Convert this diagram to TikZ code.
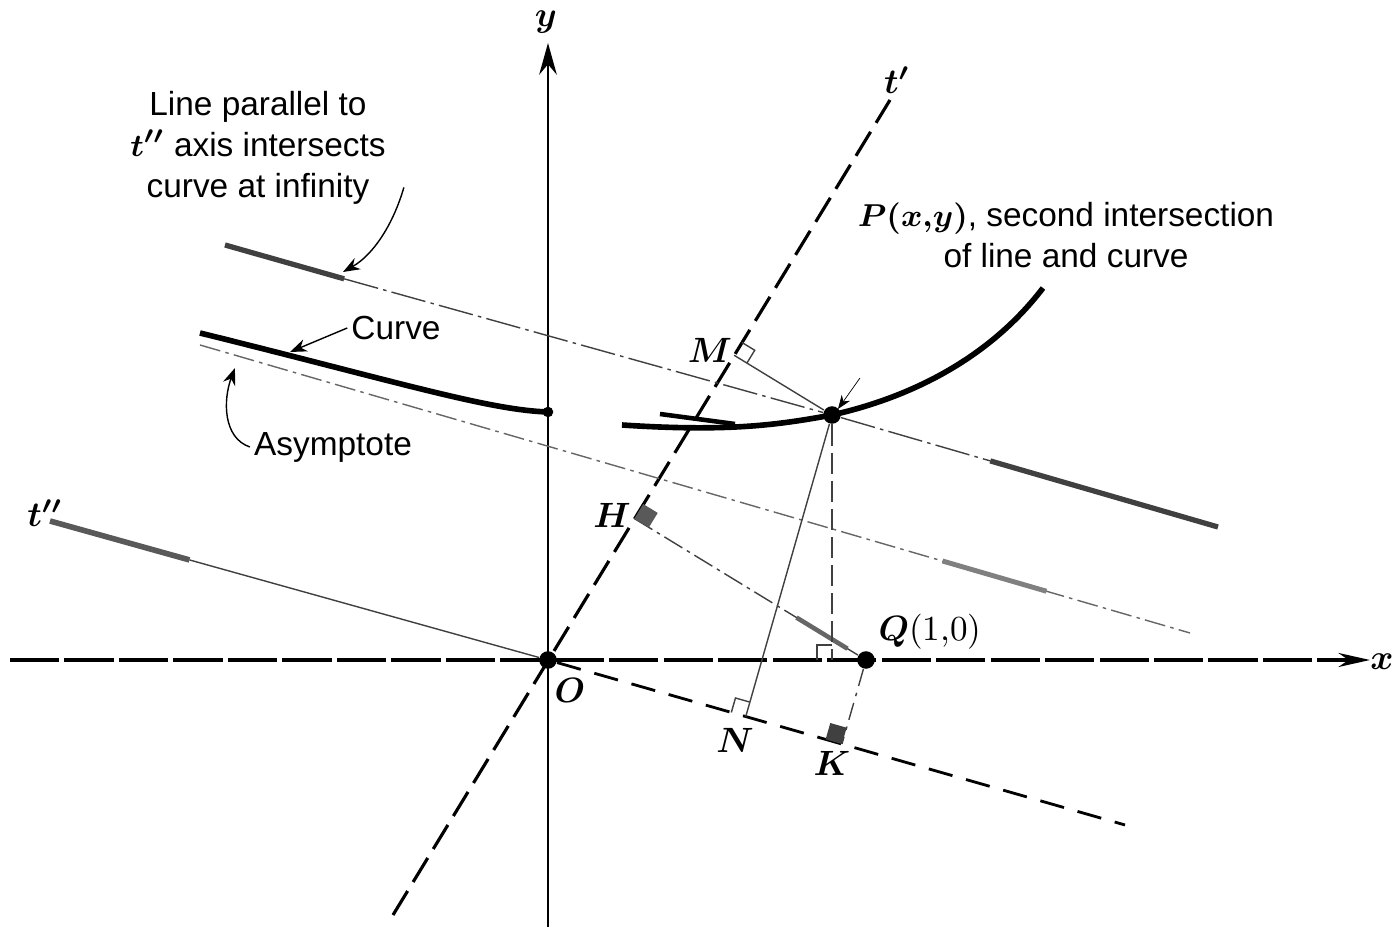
\documentclass[tikz,border=0pt]{standalone}
\usepackage{amsmath}
\usepackage{amssymb}
\usepackage{fontspec}
\setsansfont{Liberation Sans}
\usetikzlibrary{calc, positioning, arrows.meta}

% right-angle mark: corner, towards a, towards b
\newcommand{\sqmark}[4][]{\draw[#1] ($(#2)!0.15cm!(#3)$) -- ($(#2)!0.15cm!(#3) + (#2)!0.15cm!(#4) - (#2)$) -- ($(#2)!0.15cm!(#4)$);}
\newcommand{\sqfill}[4][]{\fill[#1] (#2) -- ($(#2)!0.17cm!(#3)$) -- ($(#2)!0.17cm!(#3) + (#2)!0.17cm!(#4) - (#2)$) -- ($(#2)!0.17cm!(#4)$) -- cycle;}

\begin{document}
\begin{tikzpicture}[>=Stealth,
        lbl/.style={font=\fontsize{9.5}{11.6}\selectfont\sffamily, align=center, inner sep=1pt},
        pt/.style={font=\fontsize{10}{12}\selectfont, inner sep=1pt},
        dot/.style={circle, fill, inner sep=0pt, minimum size=5pt},
        aux/.style={thin, black!75}]
        \useasboundingbox (-5.48,-2.67) rectangle (8.52,6.60);

        % points
        \node[dot] (O) at (0,0) {};
        \node[dot] (Q) at (3.18,0) {};
        \node[dot] (P) at (2.84,2.45) {};
        \node[dot, minimum size=3pt] (C) at (0,2.48) {};

        % ends of the lines
        \coordinate (xL) at (-5.38,0);
        \coordinate (xR) at (8.22,0);
        \coordinate (yB) at (0,-2.67);
        \coordinate (yT) at (0,6.17);
        \coordinate (tpB) at (-1.55,-2.55);
        \coordinate (tpT) at (3.42,5.60);
        \coordinate (tppL) at (-4.98,1.39);
        \coordinate (tppR) at (5.77,-1.65);
        \coordinate (l1L) at (-3.23,4.15);
        \coordinate (l1R) at (6.70,1.33);
        \coordinate (asL) at (-3.48,3.15);
        \coordinate (asR) at (6.42,0.27);

        % feet of the perpendiculars
        \coordinate (M) at ($(O)!(P)!(tpT)$);
        \coordinate (H) at ($(O)!(Q)!(tpT)$);
        \coordinate (N) at ($(O)!(P)!(tppR)$);
        \coordinate (K) at ($(O)!(Q)!(tppR)$);
        \coordinate (F) at (P |- O);

        % axes
        \draw[line width=0.9pt, dash pattern=on 14pt off 1.5pt, -{Stealth[length=9pt, width=4pt]}] (xL) -- (xR);
        \draw[line width=0.8pt, -{Stealth[length=9pt, width=5pt]}] (yB) -- (yT);
        \draw[line width=0.9pt, dash pattern=on 8pt off 3pt] (tpB) -- (tpT);
        \draw[line width=1.6pt, black!65] (tppL) -- ($(tppL)!0.28!(O)$);
        \draw[aux] ($(tppL)!0.28!(O)$) -- (O);
        \draw[line width=0.8pt, dash pattern=on 7pt off 4pt] (O) -- (tppR);

        % lines parallel to t''
        \draw[line width=1.5pt, black!75] (l1L) -- ($(l1L)!0.12!(l1R)$);
        \draw[aux, dash pattern=on 10pt off 1.5pt on 1pt off 1.5pt] ($(l1L)!0.12!(l1R)$) -- (P);
        \draw[aux, dash pattern=on 10pt off 1.5pt on 1pt off 1.5pt] (P) -- ($(P)!0.41!(l1R)$);
        \draw[line width=1.5pt, black!75] ($(P)!0.41!(l1R)$) -- (l1R);
        \draw[aux, black!60, dash pattern=on 6pt off 1.5pt on 1pt off 1.5pt] (asL) -- (asR);
        \draw[line width=1.4pt, black!50] ($(asL)!0.75!(asR)$) -- ($(asL)!0.855!(asR)$);

        % perpendiculars
        \draw[aux] (M) -- (P);
        \draw[aux] (P) -- (N);
        \draw[aux, dash pattern=on 6pt off 1.5pt on 1pt off 1.5pt] (H) -- (Q);
        \draw[line width=1.3pt, black!60] ($(H)!0.7!(Q)$) -- ($(H)!0.92!(Q)$);
        \draw[aux, dash pattern=on 5pt off 2pt on 1pt off 2pt] (Q) -- (K);
        \draw[aux, dash pattern=on 6pt off 2pt] (P) -- (F);
        \sqmark[aux]{M}{P}{tpT}
        \sqmark[aux]{N}{P}{O}
        \sqmark[aux]{F}{P}{O}
        \sqfill[black!65]{H}{Q}{tpT}
        \sqfill[black!75]{K}{Q}{O}

        % curve
        \draw[line width=1.6pt] (-3.48,3.27) .. controls (-1.5,2.78) and (-0.6,2.50) .. (C.center);
        \draw[line width=1.6pt] (0.74,2.35) .. controls (1.8,2.28) and (2.3,2.35) .. (P.center)
            .. controls (3.6,2.62) and (4.4,3.0) .. (4.95,3.72);
        \draw[line width=1.3pt] (1.12,2.46) -- (1.87,2.36);

        % labels
        \node[pt] (ylab) at (-0.02,6.38) {$\boldsymbol{y}$};
        \node[pt] (xlab) at (8.34,-0.02) {$\boldsymbol{x}$};
        \node[pt] (tplab) at (3.49,5.80) {$\boldsymbol{t'}$};
        \node[pt] (tpplab) at (-5.03,1.47) {$\boldsymbol{t''}$};
        \node[pt] (Olab) at (0.22,-0.30) {$\boldsymbol{O}$};
        \node[pt] (Mlab) at (1.62,3.10) {$\boldsymbol{M}$};
        \node[pt] (Hlab) at (0.64,1.45) {$\boldsymbol{H}$};
        \node[pt] (Nlab) at (1.87,-0.80) {$\boldsymbol{N}$};
        \node[pt] (Klab) at (2.84,-1.03) {$\boldsymbol{K}$};
        \node[pt] (Qlab) at (3.82,0.28) {$\boldsymbol{Q}$(1,0)};

        \node[lbl] (parlab) at (-2.90,5.12) {Line parallel to\\$\boldsymbol{t''}$ axis intersects\\curve at infinity};
        \node[lbl] (crv) at (-1.52,3.32) {Curve};
        \node[lbl] (asy) at (-2.15,2.13) {Asymptote};
        \node[lbl] (plab) at (5.18,4.25) {$\boldsymbol{P(x{,}y)}$, second intersection\\of line and curve};

        \coordinate (parAt) at (-2.05,3.88);
        \coordinate (crvAt) at (-2.58,3.08);
        \coordinate (asyAt) at (-3.13,2.92);
        \coordinate (pFrom) at (3.12,2.82);
        \draw[->, thin] ([xshift=4pt,yshift=6pt]parlab.south east) .. controls (-1.55,4.35) and (-1.75,4.05) .. (parAt);
        \draw[->, thin] (crv.west) -- (crvAt);
        \draw[->, thin] (asy.west) .. controls (-3.25,2.22) and (-3.25,2.6) .. (asyAt);
        \draw[->, very thin] (pFrom) -- ([shift={(0.06,0.06)}]P.center);
\end{tikzpicture}
\end{document}
